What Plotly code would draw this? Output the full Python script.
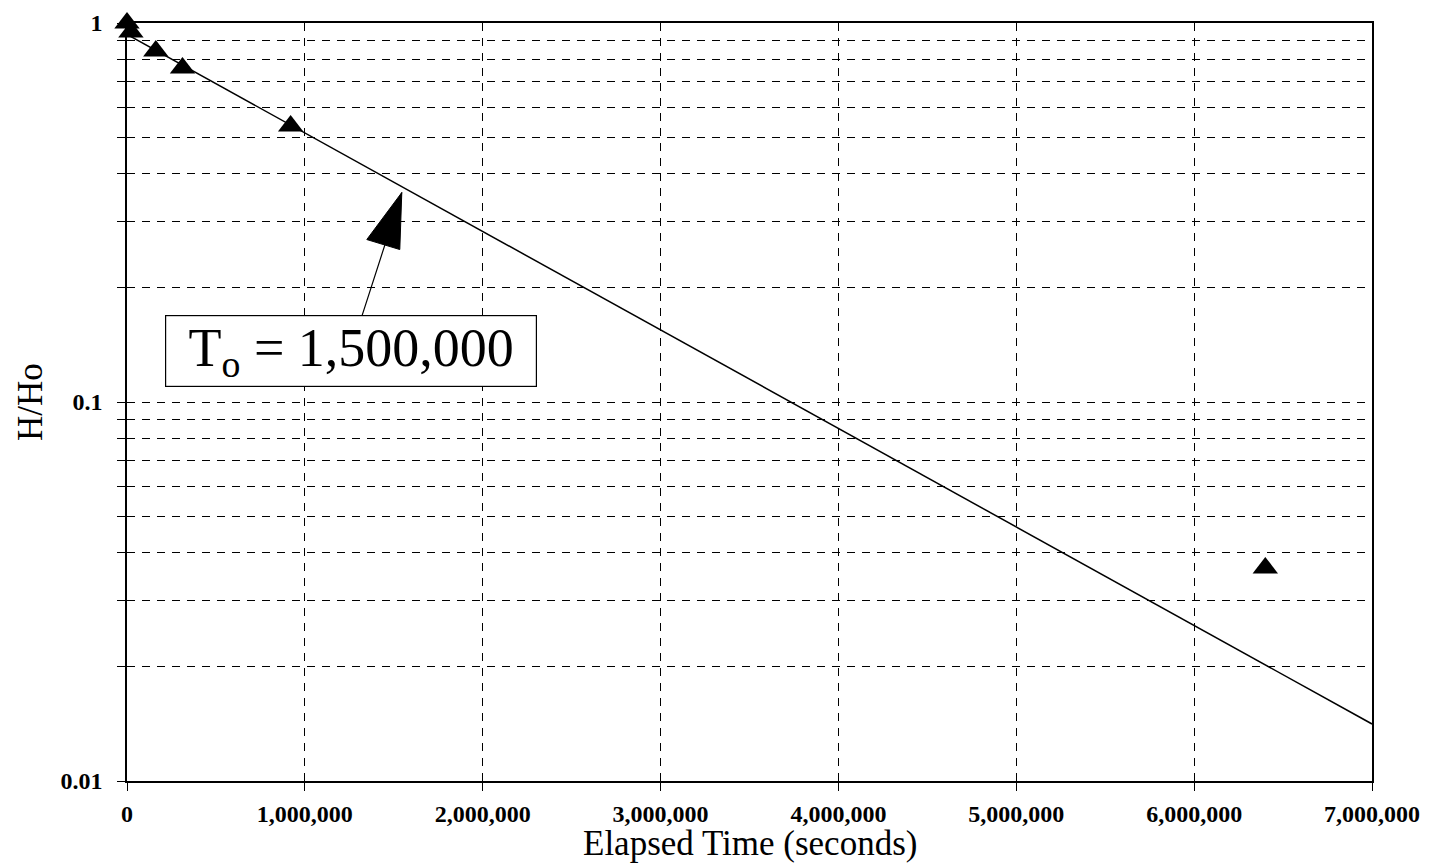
import math
import plotly.graph_objects as go

time_s = [0, 22000, 162000, 312000, 920000, 6400000]
h_ratio = [1.0, 0.947, 0.844, 0.761, 0.535, 0.0365]

# Fitted line (straight on log axis), end points
fit_time = [0, 7000000]
fit_ratio = [0.933, 0.01414]

# Annotation
t0_value = 1500000
arrow_tip_time = 1545000
arrow_tip_ratio = 0.357

x_ticks = [0, 1000000, 2000000, 3000000, 4000000, 5000000, 6000000, 7000000]
x_ticktext = ["0", "1,000,000", "2,000,000", "3,000,000", "4,000,000",
              "5,000,000", "6,000,000", "7,000,000"]
y_ticks = [0.01, 0.1, 1]
y_ticktext = ["0.01", "0.1", "1"]
y_minor = [0.02, 0.03, 0.04, 0.05, 0.06, 0.07, 0.08, 0.09,
           0.2, 0.3, 0.4, 0.5, 0.6, 0.7, 0.8, 0.9]

SERIF = "Liberation Serif, Times New Roman, serif"
DASH = "8px,7px"

fig = go.Figure()
fig.add_trace(go.Scatter(
    x=fit_time, y=fit_ratio, mode="lines",
    line=dict(color="black", width=1.5), showlegend=False, hoverinfo="skip"))
fig.add_trace(go.Scatter(
    x=time_s, y=h_ratio, mode="markers",
    marker=dict(symbol="triangle-up", size=22, color="black"),
    cliponaxis=False, showlegend=False))

fig.add_annotation(
    x=arrow_tip_time, y=math.log10(arrow_tip_ratio), xref="x", yref="y",
    text="T<sub>o</sub> = {:,}".format(t0_value),
    showarrow=True, arrowhead=0, arrowwidth=1.2, arrowcolor="black",
    ax=-51, ay=158, axref="pixel", ayref="pixel", standoff=0,
    font=dict(family=SERIF, size=54, color="black"),
    bgcolor="white", bordercolor="black", borderwidth=1.2, borderpad=3,
    width=364, height=64)

# Filled arrow head anchored at the arrow tip
fig.add_shape(
    type="path", xref="x", yref="y", xsizemode="pixel", ysizemode="pixel",
    xanchor=arrow_tip_time, yanchor=arrow_tip_ratio,
    path="M0,0 L-35,-47 L-2,-57 Z",
    fillcolor="black", line=dict(color="black", width=1))

# Axis titles
fig.add_annotation(
    text="Elapsed Time (seconds)", xref="paper", yref="paper",
    x=0.5, y=0, yshift=-62, xanchor="center", yanchor="middle",
    showarrow=False, font=dict(family=SERIF, size=35, color="black"))
fig.add_annotation(
    text="H/Ho", xref="paper", yref="paper",
    x=0, y=0.5, xshift=-97, xanchor="center", yanchor="middle",
    textangle=-90, showarrow=False,
    font=dict(family=SERIF, size=35, color="black"))

fig.update_xaxes(
    range=[0, 7000000], tickvals=x_ticks, ticktext=x_ticktext,
    showline=True, linecolor="black", linewidth=1.5, mirror=True,
    ticks="outside", ticklen=8, tickcolor="black", tickwidth=1.2,
    ticklabelstandoff=2, automargin=False,
    tickfont=dict(family=SERIF, size=24, color="black", weight="bold"),
    showgrid=True, gridcolor="black", gridwidth=1, griddash=DASH,
    zeroline=False)

fig.update_yaxes(
    type="log", range=[-2, 0], tickvals=y_ticks, ticktext=y_ticktext,
    showline=True, linecolor="black", linewidth=1.5, mirror=True,
    ticks="outside", ticklen=8, tickcolor="black", tickwidth=1.2,
    ticklabelstandoff=10, automargin=False,
    tickfont=dict(family=SERIF, size=24, color="black", weight="bold"),
    showgrid=True, gridcolor="black", gridwidth=1, griddash=DASH,
    minor=dict(tickvals=y_minor, ticks="outside", ticklen=8, tickcolor="black",
               showgrid=True, gridcolor="black", gridwidth=1, griddash=DASH),
    zeroline=False)

fig.update_layout(
    width=1432, height=868,
    margin=dict(l=127, r=60, t=23, b=87),
    paper_bgcolor="white", plot_bgcolor="white",
    showlegend=False)

fig.write_html("out.html")
